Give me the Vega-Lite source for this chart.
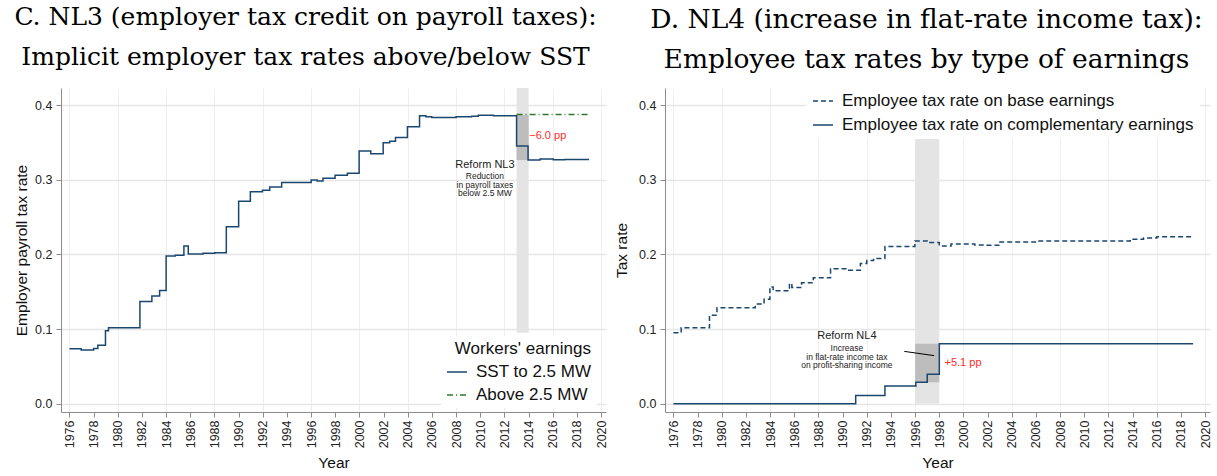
{
  "$schema": "https://vega.github.io/schema/vega-lite/v6.json",
  "padding": {"left": 14, "top": 5, "right": 0, "bottom": 0},
  "spacing": 6,
  "resolve": {"scale": {"color": "independent", "strokeDash": "independent"}, "legend": {"color": "independent", "strokeDash": "independent"}},
  "config": {
    "view": {"stroke": null},
    "font": "Liberation Sans",
    "axis": {"labelFont": "Liberation Sans", "titleFont": "Liberation Sans", "labelFontSize": 12.5, "titleFontSize": 15.5, "titleFontWeight": "normal", "labelColor": "#222", "titleColor": "#111", "domainColor": "#8c8c8c", "tickColor": "#8c8c8c", "tickSize": 5},
    "axisX": {"labelOverlap": false, "labelAngle": -90, "labelSeparation": 0},
    "title": {"font": "DejaVu Serif", "fontSize": 25, "fontWeight": "normal", "lineHeight": 40, "anchor": "middle", "frame": "group", "color": "#000", "offset": 17},
    "legend": {"labelFont": "Liberation Sans", "titleFont": "Liberation Sans", "labelColor": "#111", "titleColor": "#111"}
  },
  "datasets": {
    "bandL": [{"x0": 2013, "x1": 2014, "y0": 0.095, "y1": 0.423}],
    "darkL": [{"x0": 2013, "x1": 2014, "y0": 0.3264, "y1": 0.3866}],
    "linesL": [
      {"s": "SST to 2.5 MW", "x": 1976, "y": 0.0736},
      {"s": "SST to 2.5 MW", "x": 1976.97, "y": 0.0722},
      {"s": "SST to 2.5 MW", "x": 1978.0, "y": 0.074},
      {"s": "SST to 2.5 MW", "x": 1978.35, "y": 0.0785},
      {"s": "SST to 2.5 MW", "x": 1978.98, "y": 0.098},
      {"s": "SST to 2.5 MW", "x": 1979.23, "y": 0.102},
      {"s": "SST to 2.5 MW", "x": 1981.83, "y": 0.1369},
      {"s": "SST to 2.5 MW", "x": 1982.82, "y": 0.1445},
      {"s": "SST to 2.5 MW", "x": 1983.46, "y": 0.1516},
      {"s": "SST to 2.5 MW", "x": 1984.0, "y": 0.198},
      {"s": "SST to 2.5 MW", "x": 1984.76, "y": 0.199},
      {"s": "SST to 2.5 MW", "x": 1985.47, "y": 0.2114},
      {"s": "SST to 2.5 MW", "x": 1985.83, "y": 0.2007},
      {"s": "SST to 2.5 MW", "x": 1987.05, "y": 0.2016},
      {"s": "SST to 2.5 MW", "x": 1988.02, "y": 0.2024},
      {"s": "SST to 2.5 MW", "x": 1988.98, "y": 0.2372},
      {"s": "SST to 2.5 MW", "x": 1990.0, "y": 0.2712},
      {"s": "SST to 2.5 MW", "x": 1990.97, "y": 0.284},
      {"s": "SST to 2.5 MW", "x": 1991.97, "y": 0.2859},
      {"s": "SST to 2.5 MW", "x": 1992.57, "y": 0.2903},
      {"s": "SST to 2.5 MW", "x": 1993.56, "y": 0.2963},
      {"s": "SST to 2.5 MW", "x": 1996.0, "y": 0.2997},
      {"s": "SST to 2.5 MW", "x": 1996.5, "y": 0.2985},
      {"s": "SST to 2.5 MW", "x": 1996.98, "y": 0.302},
      {"s": "SST to 2.5 MW", "x": 1997.98, "y": 0.306},
      {"s": "SST to 2.5 MW", "x": 1999.0, "y": 0.3087},
      {"s": "SST to 2.5 MW", "x": 1999.97, "y": 0.3385},
      {"s": "SST to 2.5 MW", "x": 2000.94, "y": 0.3349},
      {"s": "SST to 2.5 MW", "x": 2001.96, "y": 0.3496},
      {"s": "SST to 2.5 MW", "x": 2002.5, "y": 0.3518},
      {"s": "SST to 2.5 MW", "x": 2002.98, "y": 0.3568},
      {"s": "SST to 2.5 MW", "x": 2003.97, "y": 0.371},
      {"s": "SST to 2.5 MW", "x": 2004.97, "y": 0.3857},
      {"s": "SST to 2.5 MW", "x": 2005.5, "y": 0.3844},
      {"s": "SST to 2.5 MW", "x": 2005.98, "y": 0.3835},
      {"s": "SST to 2.5 MW", "x": 2008.0, "y": 0.3844},
      {"s": "SST to 2.5 MW", "x": 2009.28, "y": 0.3853},
      {"s": "SST to 2.5 MW", "x": 2009.83, "y": 0.3866},
      {"s": "SST to 2.5 MW", "x": 2011.07, "y": 0.3857},
      {"s": "SST to 2.5 MW", "x": 2013.0, "y": 0.3452},
      {"s": "SST to 2.5 MW", "x": 2013.95, "y": 0.3264},
      {"s": "SST to 2.5 MW", "x": 2014.94, "y": 0.3278},
      {"s": "SST to 2.5 MW", "x": 2016.04, "y": 0.3268},
      {"s": "SST to 2.5 MW", "x": 2017.0, "y": 0.3273},
      {"s": "SST to 2.5 MW", "x": 2019.0, "y": 0.3273},
      {"s": "Above 2.5 MW", "x": 2013.0, "y": 0.3875},
      {"s": "Above 2.5 MW", "x": 2019.0, "y": 0.3875}
    ],
    "textL1": [{"x": 2010.38, "y": 0.3197, "t": "Reform NL3"}],
    "textL2": [
      {"x": 2010.38, "y": 0.305, "t": "Reduction"},
      {"x": 2010.38, "y": 0.293, "t": "in payroll taxes"},
      {"x": 2010.38, "y": 0.2819, "t": "below 2.5 MW"}
    ],
    "redL": [{"x": 2014.05, "y": 0.3585, "t": "−6.0 pp"}],
    "bandR": [{"x0": 1996, "x1": 1998, "y0": 0, "y1": 0.3557}],
    "darkR": [{"x0": 1996, "x1": 1998, "y0": 0.029, "y1": 0.0803}],
    "linesR": [
      {"s": "Employee tax rate on base earnings", "x": 1976, "y": 0.095},
      {"s": "Employee tax rate on base earnings", "x": 1976.64, "y": 0.1017},
      {"s": "Employee tax rate on base earnings", "x": 1978.98, "y": 0.1187},
      {"s": "Employee tax rate on base earnings", "x": 1979.6, "y": 0.1285},
      {"s": "Employee tax rate on base earnings", "x": 1982.77, "y": 0.1335},
      {"s": "Employee tax rate on base earnings", "x": 1983.5, "y": 0.14},
      {"s": "Employee tax rate on base earnings", "x": 1983.98, "y": 0.1566},
      {"s": "Employee tax rate on base earnings", "x": 1984.25, "y": 0.1513},
      {"s": "Employee tax rate on base earnings", "x": 1985.6, "y": 0.161},
      {"s": "Employee tax rate on base earnings", "x": 1985.8, "y": 0.1558},
      {"s": "Employee tax rate on base earnings", "x": 1986.6, "y": 0.162},
      {"s": "Employee tax rate on base earnings", "x": 1987.57, "y": 0.1687},
      {"s": "Employee tax rate on base earnings", "x": 1989.0, "y": 0.181},
      {"s": "Employee tax rate on base earnings", "x": 1990.5, "y": 0.179},
      {"s": "Employee tax rate on base earnings", "x": 1991.47, "y": 0.188},
      {"s": "Employee tax rate on base earnings", "x": 1992.0, "y": 0.1918},
      {"s": "Employee tax rate on base earnings", "x": 1992.56, "y": 0.1947},
      {"s": "Employee tax rate on base earnings", "x": 1993.5, "y": 0.2107},
      {"s": "Employee tax rate on base earnings", "x": 1995.98, "y": 0.2182},
      {"s": "Employee tax rate on base earnings", "x": 1997.0, "y": 0.216},
      {"s": "Employee tax rate on base earnings", "x": 1998.0, "y": 0.2115},
      {"s": "Employee tax rate on base earnings", "x": 1998.97, "y": 0.2142},
      {"s": "Employee tax rate on base earnings", "x": 2000.93, "y": 0.2128},
      {"s": "Employee tax rate on base earnings", "x": 2001.87, "y": 0.2124},
      {"s": "Employee tax rate on base earnings", "x": 2002.92, "y": 0.2168},
      {"s": "Employee tax rate on base earnings", "x": 2005.95, "y": 0.218},
      {"s": "Employee tax rate on base earnings", "x": 2013.8, "y": 0.2205},
      {"s": "Employee tax rate on base earnings", "x": 2014.9, "y": 0.2222},
      {"s": "Employee tax rate on base earnings", "x": 2016.0, "y": 0.2236},
      {"s": "Employee tax rate on base earnings", "x": 2019.0, "y": 0.2236},
      {"s": "Employee tax rate on complementary earnings", "x": 1976, "y": 0},
      {"s": "Employee tax rate on complementary earnings", "x": 1991.08, "y": 0.0112},
      {"s": "Employee tax rate on complementary earnings", "x": 1993.5, "y": 0.0237},
      {"s": "Employee tax rate on complementary earnings", "x": 1996.06, "y": 0.029},
      {"s": "Employee tax rate on complementary earnings", "x": 1997.0, "y": 0.0394},
      {"s": "Employee tax rate on complementary earnings", "x": 1998.0, "y": 0.0803},
      {"s": "Employee tax rate on complementary earnings", "x": 2019.0, "y": 0.0803}
    ],
    "ruleR": [{"x": 1995.1, "y": 0.0702, "x2": 1997.57, "y2": 0.0645}],
    "textR1": [{"x": 1990.35, "y": 0.0906, "t": "Reform NL4"}],
    "textR2": [
      {"x": 1990.35, "y": 0.0741, "t": "Increase"},
      {"x": 1990.35, "y": 0.0629, "t": "in flat-rate income tax"},
      {"x": 1990.35, "y": 0.0514, "t": "on profit-sharing income"}
    ],
    "redR": [{"x": 1998.43, "y": 0.054, "t": "+5.1 pp"}]
  },
  "hconcat": [
    {
      "width": 545,
      "height": 324,
      "title": {"text": ["C. NL3 (employer tax credit on payroll taxes):", "Implicit employer tax rates above/below SST"], "dx": -28, "dy": -1},
      "resolve": {"axis": {"x": "independent"}},
      "layer": [
        {
          "data": {"name": "bandL"},
          "mark": {"type": "rect", "color": "#e4e4e4"},
          "encoding": {
            "x": {"field": "x0", "type": "quantitative", "scale": {"domain": [1975.3, 2020.4], "nice": false, "zero": false},
                  "axis": {"orient": "bottom", "values": [1976,1980,1984,1988,1992,1996,2000,2004,2008,2012,2016,2020], "format": "d", "labelAngle": -90, "labelOverlap": false, "title": "Year", "gridColor": "#efefef", "gridWidth": 1, "titlePadding": 8, "labelPadding": 3}},
            "x2": {"field": "x1"},
            "y": {"field": "y0", "type": "quantitative", "scale": {"domain": [-0.011, 0.423], "nice": false, "zero": false},
                  "axis": {"values": [0, 0.1, 0.2, 0.3, 0.4], "format": ".1f", "title": "Employer payroll tax rate", "gridColor": "#e6e6e6", "gridWidth": 1.5, "titlePadding": 5, "labelPadding": 4}},
            "y2": {"field": "y1"}
          }
        },
        {
          "data": {"name": "darkL"},
          "mark": {"type": "rect", "color": "#bdbdbd"},
          "encoding": {
            "x": {"field": "x0", "type": "quantitative",
                  "axis": {"orient": "bottom", "values": [1978,1982,1986,1990,1994,1998,2002,2006,2010,2014,2018], "format": "d", "labelAngle": -90, "labelOverlap": false, "title": null, "gridColor": "#efefef", "gridWidth": 1, "labelPadding": 3, "domain": false}},
            "x2": {"field": "x1"},
            "y": {"field": "y0", "type": "quantitative"},
            "y2": {"field": "y1"}
          }
        },
        {
          "data": {"name": "linesL"},
          "mark": {"type": "line", "interpolate": "step-after", "strokeWidth": 1.5},
          "encoding": {
            "x": {"field": "x", "type": "quantitative", "axis": null},
            "y": {"field": "y", "type": "quantitative"},
            "color": {"field": "s", "type": "nominal", "scale": {"domain": ["SST to 2.5 MW", "Above 2.5 MW"], "range": ["#1a476f", "#2a7a2a"]},
                      "legend": {"title": "Workers' earnings", "orient": "none", "legendX": 380, "legendY": 248, "fillColor": "white", "padding": 5, "titleFontSize": 17, "labelFontSize": 17, "titleFontWeight": "normal", "titleAnchor": "end", "symbolType": "stroke", "symbolSize": 400, "symbolStrokeWidth": 1.5, "rowPadding": 4, "titlePadding": 3, "labelOffset": 8, "labelLimit": 400}},
            "strokeDash": {"field": "s", "type": "nominal", "scale": {"domain": ["SST to 2.5 MW", "Above 2.5 MW"], "range": [[1, 0], [6, 3, 1, 3]]},
                      "legend": {"title": "Workers' earnings", "orient": "none", "legendX": 380, "legendY": 248, "fillColor": "white", "padding": 5, "titleFontSize": 17, "labelFontSize": 17, "titleFontWeight": "normal", "titleAnchor": "end", "symbolType": "stroke", "symbolSize": 400, "symbolStrokeWidth": 1.5, "rowPadding": 4, "titlePadding": 3, "labelOffset": 8, "labelLimit": 400}}
          }
        },
        {
          "data": {"name": "textL1"},
          "mark": {"type": "text", "fontSize": 11, "color": "#222", "align": "center", "baseline": "middle"},
          "encoding": {"x": {"field": "x", "type": "quantitative", "axis": null}, "y": {"field": "y", "type": "quantitative"}, "text": {"field": "t"}}
        },
        {
          "data": {"name": "textL2"},
          "mark": {"type": "text", "fontSize": 8.5, "color": "#222", "align": "center", "baseline": "middle"},
          "encoding": {"x": {"field": "x", "type": "quantitative", "axis": null}, "y": {"field": "y", "type": "quantitative"}, "text": {"field": "t"}}
        },
        {
          "data": {"name": "redL"},
          "mark": {"type": "text", "fontSize": 11, "color": "#ff2a2a", "align": "left", "baseline": "middle"},
          "encoding": {"x": {"field": "x", "type": "quantitative", "axis": null}, "y": {"field": "y", "type": "quantitative"}, "text": {"field": "t"}}
        }
      ]
    },
    {
      "width": 545,
      "height": 324,
      "title": {"text": ["D. NL4 (increase in flat-rate income tax):", "Employee tax rates by type of earnings"], "dx": -11, "dy": 6, "fontSize": 26.5},
      "resolve": {"axis": {"x": "independent"}},
      "layer": [
        {
          "data": {"name": "bandR"},
          "mark": {"type": "rect", "color": "#e4e4e4"},
          "encoding": {
            "x": {"field": "x0", "type": "quantitative", "scale": {"domain": [1975.3, 2020.4], "nice": false, "zero": false},
                  "axis": {"orient": "bottom", "values": [1976,1980,1984,1988,1992,1996,2000,2004,2008,2012,2016,2020], "format": "d", "labelAngle": -90, "labelOverlap": false, "title": "Year", "gridColor": "#efefef", "gridWidth": 1, "titlePadding": 8, "labelPadding": 3}},
            "x2": {"field": "x1"},
            "y": {"field": "y0", "type": "quantitative", "scale": {"domain": [-0.011, 0.423], "nice": false, "zero": false},
                  "axis": {"values": [0, 0.1, 0.2, 0.3, 0.4], "format": ".1f", "title": "Tax rate", "gridColor": "#e6e6e6", "gridWidth": 1.5, "titlePadding": 9, "labelPadding": 4}},
            "y2": {"field": "y1"}
          }
        },
        {
          "data": {"name": "darkR"},
          "mark": {"type": "rect", "color": "#bdbdbd"},
          "encoding": {
            "x": {"field": "x0", "type": "quantitative",
                  "axis": {"orient": "bottom", "values": [1978,1982,1986,1990,1994,1998,2002,2006,2010,2014,2018], "format": "d", "labelAngle": -90, "labelOverlap": false, "title": null, "gridColor": "#efefef", "gridWidth": 1, "labelPadding": 3, "domain": false}},
            "x2": {"field": "x1"},
            "y": {"field": "y0", "type": "quantitative"},
            "y2": {"field": "y1"}
          }
        },
        {
          "data": {"name": "linesR"},
          "mark": {"type": "line", "interpolate": "step-after", "strokeWidth": 1.5},
          "encoding": {
            "x": {"field": "x", "type": "quantitative", "axis": null},
            "y": {"field": "y", "type": "quantitative"},
            "color": {"field": "s", "type": "nominal", "scale": {"domain": ["Employee tax rate on base earnings", "Employee tax rate on complementary earnings"], "range": ["#1a476f", "#1a476f"]},
                      "legend": {"title": null, "orient": "none", "legendX": 141, "legendY": -4, "fillColor": "white", "padding": 6, "labelFontSize": 17, "symbolType": "stroke", "symbolSize": 400, "symbolStrokeWidth": 1.5, "rowPadding": 5, "labelOffset": 8, "labelLimit": 500}},
            "strokeDash": {"field": "s", "type": "nominal", "scale": {"domain": ["Employee tax rate on base earnings", "Employee tax rate on complementary earnings"], "range": [[5, 3], [1, 0]]},
                      "legend": {"title": null, "orient": "none", "legendX": 141, "legendY": -4, "fillColor": "white", "padding": 6, "labelFontSize": 17, "symbolType": "stroke", "symbolSize": 400, "symbolStrokeWidth": 1.5, "rowPadding": 5, "labelOffset": 8, "labelLimit": 500}}
          }
        },
        {
          "data": {"name": "ruleR"},
          "mark": {"type": "rule", "color": "#000", "strokeWidth": 1},
          "encoding": {"x": {"field": "x", "type": "quantitative", "axis": null}, "y": {"field": "y", "type": "quantitative"}, "x2": {"field": "x2"}, "y2": {"field": "y2"}}
        },
        {
          "data": {"name": "textR1"},
          "mark": {"type": "text", "fontSize": 11, "color": "#222", "align": "center", "baseline": "middle"},
          "encoding": {"x": {"field": "x", "type": "quantitative", "axis": null}, "y": {"field": "y", "type": "quantitative"}, "text": {"field": "t"}}
        },
        {
          "data": {"name": "textR2"},
          "mark": {"type": "text", "fontSize": 8.5, "color": "#222", "align": "center", "baseline": "middle"},
          "encoding": {"x": {"field": "x", "type": "quantitative", "axis": null}, "y": {"field": "y", "type": "quantitative"}, "text": {"field": "t"}}
        },
        {
          "data": {"name": "redR"},
          "mark": {"type": "text", "fontSize": 11, "color": "#ff2a2a", "align": "left", "baseline": "middle"},
          "encoding": {"x": {"field": "x", "type": "quantitative", "axis": null}, "y": {"field": "y", "type": "quantitative"}, "text": {"field": "t"}}
        }
      ]
    }
  ]
}
